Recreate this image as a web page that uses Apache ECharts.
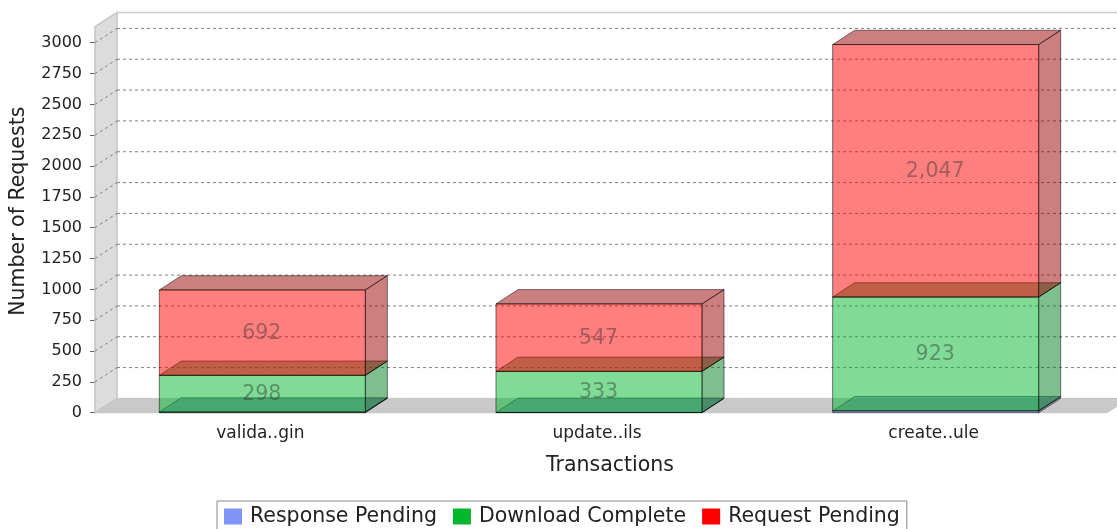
<!DOCTYPE html>
<html>
<head>
<meta charset="utf-8">
<style>html,body{margin:0;padding:0;background:#fff}#c{width:1117px;height:529px}</style>
<script src="https://cdn.jsdelivr.net/npm/echarts@6/dist/echarts.min.js"></script>
</head>
<body>
<div id="c"></div>
<script>
const categories = ['valida..gin', 'update..ils', 'create..ule'];
const responsePending = [5, 2, 15];
const downloadComplete = [298, 333, 923];
const requestPending = [692, 547, 2047];
const tickValues = [250, 500, 750, 1000, 1250, 1500, 1750, 2000, 2250, 2500, 2750, 3000];

const FONT = '"DejaVu Sans",sans-serif';
const DX = 22, DY = -14.3, BAR_RATIO = 0.612;
const ALPHA = 0.5;
const stackDefs = [
  {name: 'Response Pending', color: '#7F94F5', dark: '#59689f', values: responsePending, label: false},
  {name: 'Download Complete', color: '#00B82E', dark: '#00801f', values: downloadComplete, label: true},
  {name: 'Request Pending', color: '#FF0000', dark: '#990000', values: requestPending, label: true}
];

function poly(points, fill, stroke) {
  return {type: 'polygon', shape: {points},
    style: {fill, opacity: 1, stroke: stroke || 'rgba(0,0,0,0.5)', lineWidth: 1}};
}
function rgba(hex, a) {
  const n = parseInt(hex.slice(1), 16);
  return 'rgba(' + (n >> 16) + ',' + ((n >> 8) & 255) + ',' + (n & 255) + ',' + a + ')';
}

function renderWalls(params, api) {
  const cs = params.coordSys;
  const xl = cs.x + 1, yb = cs.y + cs.height, yt = api.coord([0, 3000])[1] - 16;
  const xr = cs.x + cs.width + 3;
  return {type: 'group', children: [
    {type: 'polygon', shape: {points: [[xl, yb], [xl, yt], [xl + DX, yt + DY], [xl + DX, yb + DY]]},
      style: {fill: '#dcdcdc', stroke: '#c4c4c4', lineWidth: 1.5}},
    {type: 'polygon', shape: {points: [[xl, yb], [xl + DX, yb + DY], [xr + DX, yb + DY], [xr, yb]]},
      style: {fill: '#c9c9c9', stroke: '#c4c4c4', lineWidth: 1}},
    {type: 'line', shape: {x1: xl + DX, y1: yt + DY, x2: xr + DX, y2: yt + DY},
      style: {stroke: '#c8d0d0', lineWidth: 1.5}}
  ]};
}

function renderGrid(params, api) {
  const cs = params.coordSys;
  const y = api.coord([0, api.value(0)])[1];
  const xl = cs.x + 1, xr = cs.x + cs.width + 3;
  const st = {stroke: '#808080', lineWidth: 1, lineDash: [3, 3]};
  return {type: 'group', children: [
    {type: 'line', shape: {x1: xl, y1: y, x2: xl + DX, y2: y + DY}, style: st},
    {type: 'line', shape: {x1: xl + DX, y1: y + DY, x2: xr + DX, y2: y + DY}, style: st}
  ]};
}

function makeRender(def) {
  return function (params, api) {
    const c = api.value(0), v0 = api.value(1), v1 = api.value(2);
    const w = api.size([1, 0])[0] * BAR_RATIO;
    const cx = api.coord([c, 0])[0];
    const x0 = cx - w / 2, x1 = cx + w / 2;
    const y0 = api.coord([c, v0])[1], y1 = api.coord([c, v1])[1];
    const children = [
      poly([[x1, y0], [x1 + DX, y0 + DY], [x1 + DX, y1 + DY], [x1, y1]], rgba(def.dark, ALPHA)),
      poly([[x0, y1], [x0 + DX, y1 + DY], [x1 + DX, y1 + DY], [x1, y1]], rgba(def.dark, ALPHA)),
      poly([[x0, y0], [x0, y1], [x1, y1], [x1, y0]], rgba(def.color, ALPHA))
    ];
    if (def.label) {
      children.push({type: 'text', z2: 10, style: {
        text: (v1 - v0).toLocaleString('en-US'), x: cx - 0.5, y: (y0 + y1) / 2 + 1,
        align: 'center', verticalAlign: 'middle', fontFamily: FONT, fontSize: 20.5,
        fill: 'rgba(50,50,50,0.45)'}});
    }
    return {type: 'group', children};
  };
}

const cum = categories.map(() => 0);
const barSeries = stackDefs.map((def, idx) => {
  const data = def.values.map((v, i) => {
    const row = [i, cum[i], cum[i] + v];
    cum[i] += v;
    return row;
  });
  return {
    type: 'custom', name: def.name, z: 5 + idx, silent: true,
    itemStyle: {color: def.color},
    encode: {x: 0, y: 2},
    renderItem: makeRender(def), data
  };
});

const chart = echarts.init(document.getElementById('c'), null, {renderer: 'canvas'});
chart.setOption({
  animation: false,
  backgroundColor: '#fff',
  grid: {left: 93, top: 42.7, width: 1011, height: 370, containLabel: false},
  xAxis: {
    type: 'category', data: categories,
    axisLine: {show: false}, axisTick: {show: false},
    axisLabel: {margin: 12, fontFamily: FONT, fontSize: 17, color: '#222', padding: [0, 4, 0, 0]},
    name: 'Transactions', nameLocation: 'middle', nameGap: 42,
    nameTextStyle: {fontFamily: FONT, fontSize: 20.5, color: '#222', padding: [0, 0, 0, 22]}
  },
  yAxis: {
    type: 'value', min: 0, max: 3000, interval: 250, offset: -1,
    splitLine: {show: false},
    axisLine: {show: false},
    axisTick: {show: true, length: 5, lineStyle: {color: '#666'}},
    axisLabel: {margin: 13, fontFamily: FONT, fontSize: 16, color: '#222', padding: [3, 0, 0, 0],
      formatter: function (v) { return String(v); }},
    name: 'Number of Requests', nameLocation: 'middle', nameGap: 66,
    nameTextStyle: {fontFamily: FONT, fontSize: 20.5, color: '#222', padding: [0, 0, 0, 33]}
  },
  legend: {
    left: 217, top: 501, orient: 'horizontal',
    data: stackDefs.map(d => d.name),
    icon: 'rect', itemWidth: 18, itemHeight: 16, itemGap: 16,
    padding: [5, 7, 12, 7], borderColor: '#888', borderWidth: 1,
    selectedMode: false,
    textStyle: {fontFamily: FONT, fontSize: 20.5, color: '#222', padding: [0, 0, 0, 3]}
  },
  series: [
    {type: 'custom', name: 'walls', z: 1, silent: true, renderItem: renderWalls, data: [[0]], encode: {y: -1, x: -1}},
    {type: 'custom', name: 'grid', z: 2, silent: true, renderItem: renderGrid,
     data: tickValues.map(v => [v]), encode: {y: 0, x: -1}}
  ].concat(barSeries)
});
</script>
</body>
</html>
